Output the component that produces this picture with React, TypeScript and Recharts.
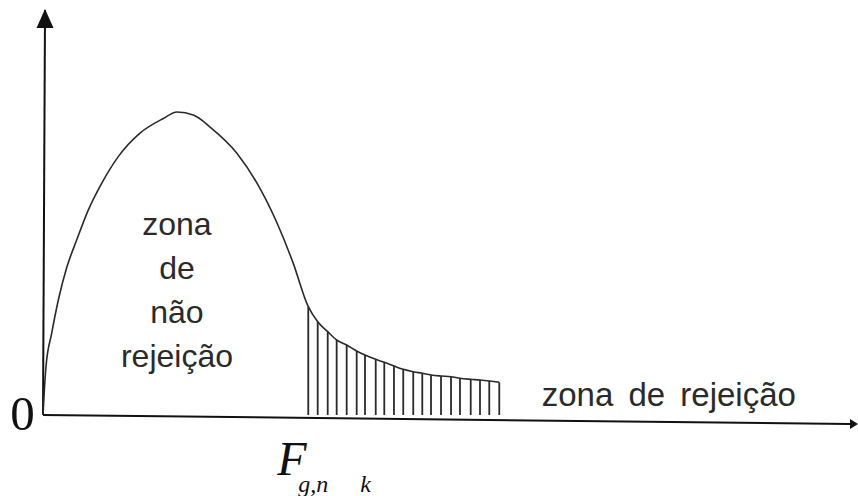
import React from 'react';
import { ComposedChart, Line, XAxis, YAxis, ReferenceLine, ReferenceDot } from 'recharts';

// F density, left part (acceptance region) — x in F units, y in relative density
const bodyX = [0, 0.012, 0.037, 0.108, 0.19, 0.294, 0.417, 0.561, 0.727, 0.933, 1.202, 1.491, 1.66, 1.87, 2.07, 2.4, 2.65, 2.9, 3.1];
const bodyY = [0, 4.5, 11.9, 20.2, 28.4, 36.4, 43.2, 50.6, 57.2, 63.8, 69.6, 73.2, 74.8, 74.0, 71.1, 64.7, 57.3, 47.4, 37.5];

// tail (rejection region), each point also carries a hatch stroke
const tailX = [3.287, 3.404, 3.528, 3.639, 3.763, 3.887, 3.99, 4.123, 4.229, 4.349, 4.464, 4.588, 4.7, 4.808, 4.932, 5.056, 5.167, 5.3, 5.415, 5.53, 5.654];
const tailY = [26.74, 23.04, 20.57, 18.52, 17.28, 15.8, 14.81, 13.75, 13.01, 12.1, 11.28, 10.69, 10.3, 9.88, 9.63, 9.46, 9.06, 8.81, 8.64, 8.4, 8.07];

// axis end points (the horizontal axis runs very slightly downhill)
const xAxisEnd = { x: 10, y: -2.2 };
const yAxisEnd = { x: 0.025, y: 100 };

const acceptLines = ['zona', 'de', 'não', 'rejeição'];
const rejectLabel = 'zona de rejeição';
const originLabel = '0';
const critMain = 'F';
const critSub = 'g,n';
const critSub2 = 'k';

const curve = [
  ...bodyX.map((x, i) => ({ x, y: bodyY[i] })),
  ...tailX.map((x, i) => ({ x, y: tailY[i] })),
];

const ink = '#2a2a2a';
const sans = '"Liberation Sans", Arial, sans-serif';
const serif = '"Liberation Serif", "Times New Roman", serif';

export default function App() {
  return (
    <div style={{ position: 'absolute', left: 0, top: 0, background: '#fff' }}>
      <ComposedChart
        width={858}
        height={496}
        data={curve}
        margin={{ top: 10, right: 8, left: 43, bottom: 81 }}
      >
        <XAxis dataKey="x" type="number" domain={[0, 10]} hide />
        <YAxis type="number" domain={[0, 100]} hide />
        {/* axes */}
        <ReferenceLine
          segment={[{ x: 0, y: 0 }, xAxisEnd]}
          stroke="#111"
          strokeWidth={2}
          ifOverflow="visible"
        />
        <ReferenceLine
          segment={[{ x: 0, y: 0 }, yAxisEnd]}
          stroke="#111"
          strokeWidth={2}
          ifOverflow="visible"
        />
        {tailX.map((x, i) => (
          <ReferenceLine
            key={i}
            segment={[{ x, y: 0 }, { x, y: tailY[i] }]}
            stroke={ink}
            strokeWidth={1.8}
            ifOverflow="visible"
          />
        ))}
        <Line
          dataKey="y"
          type="monotone"
          stroke={ink}
          strokeWidth={1.6}
          dot={false}
          isAnimationActive={false}
        />
        {/* axis arrow heads */}
        <ReferenceDot
          x={yAxisEnd.x}
          y={yAxisEnd.y}
          r={0}
          ifOverflow="visible"
          shape={(p: any) => (
            <polygon
              points={`${p.cx},${p.cy - 1} ${p.cx - 8.5},${p.cy + 18} ${p.cx + 8.5},${p.cy + 18}`}
              fill="#111"
            />
          )}
        />
        <ReferenceDot
          x={xAxisEnd.x}
          y={xAxisEnd.y}
          r={0}
          ifOverflow="visible"
          shape={(p: any) => (
            <polygon
              points={`${p.cx + 8},${p.cy} ${p.cx},${p.cy - 5} ${p.cx},${p.cy + 5}`}
              fill="#111"
            />
          )}
        />
        {/* region labels */}
        <ReferenceDot
          x={1.66}
          y={44.4}
          r={0}
          ifOverflow="visible"
          shape={(p: any) => (
            <text
              x={p.cx}
              y={p.cy}
              textAnchor="middle"
              fontFamily={sans}
              fontSize={32}
              fill={ink}
            >
              {acceptLines.map((t, i) => (
                <tspan key={i} x={p.cx} dy={i === 0 ? 0 : 44}>
                  {t}
                </tspan>
              ))}
            </text>
          )}
        />
        <ReferenceDot
          x={6.18}
          y={2.2}
          r={0}
          ifOverflow="visible"
          shape={(p: any) => (
            <text
              x={p.cx}
              y={p.cy}
              textAnchor="start"
              fontFamily={sans}
              fontSize={33}
              fill={ink}
              style={{ wordSpacing: 6 }}
            >
              {rejectLabel}
            </text>
          )}
        />
        <ReferenceDot
          x={0}
          y={0}
          r={0}
          ifOverflow="visible"
          shape={(p: any) => (
            <text
              x={p.cx - 20.5}
              y={p.cy + 15}
              textAnchor="middle"
              fontFamily={serif}
              fontSize={49}
              fill="#111"
            >
              {originLabel}
            </text>
          )}
        />
        <ReferenceDot
          x={tailX[0]}
          y={0}
          r={0}
          ifOverflow="visible"
          shape={(p: any) => (
            <g fontFamily={serif} fontStyle="italic" fill="#111">
              <text x={p.cx - 31} y={p.cy + 60} fontSize={48}>
                {critMain}
              </text>
              <text x={p.cx - 10} y={p.cy + 77} fontSize={24}>
                {critSub}
              </text>
              <text x={p.cx + 52} y={p.cy + 77} fontSize={24}>
                {critSub2}
              </text>
            </g>
          )}
        />
      </ComposedChart>
    </div>
  );
}
